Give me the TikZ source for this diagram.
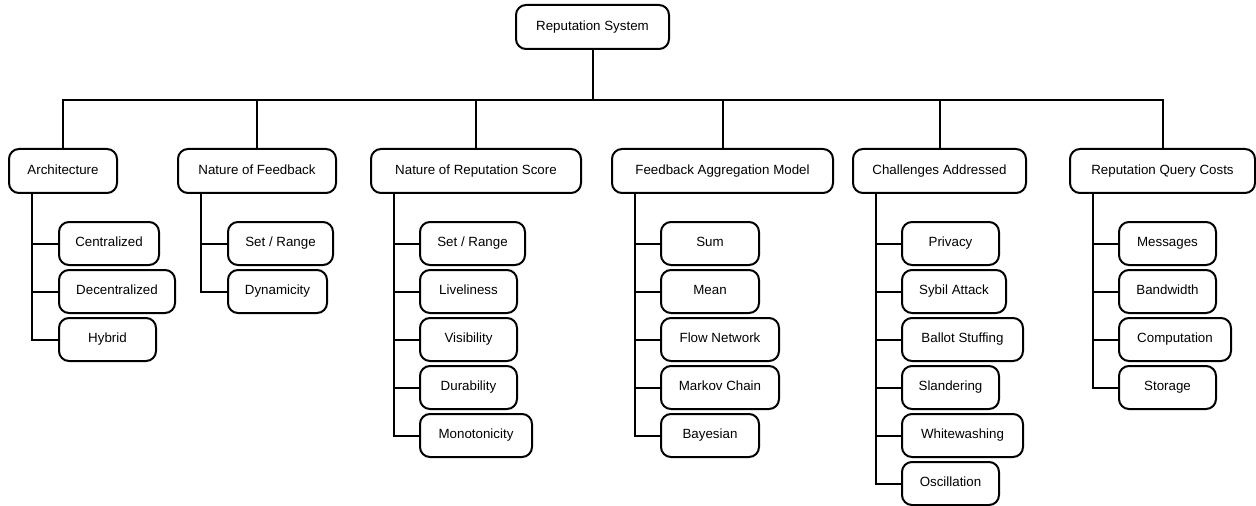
\documentclass[tikz,border=0pt]{standalone}
\usepackage{fontspec}
\setmainfont{Liberation Sans}
\begin{document}
\begin{tikzpicture}[x=0.75pt,y=-0.75pt,
  box/.style={draw=black,line width=1.5pt,rounded corners=7.5pt,fill=white,
    minimum height=33pt,inner sep=0pt,text height=7.2pt,text depth=2.1pt,
    font=\fontsize{10pt}{12pt}\selectfont},
  leaf/.style={box,minimum height=32.25pt,anchor=west},
  conn/.style={draw=black,line width=1.5pt}]
\useasboundingbox (0,0) rectangle (1256,506);
% root
\node[box,minimum width=114.75pt] (root) at (592.5,27) {Reputation System};
\coordinate (bus) at (592.5,100);
% level 1
\node[box,minimum width=81pt]    (A) at (63,171)    {Architecture};
\node[box,minimum width=118.5pt] (B) at (257,171)   {Nature of Feedback};
\node[box,minimum width=157.5pt] (C) at (476,171)   {Nature of Reputation Score};
\node[box,minimum width=165.75pt](D) at (722.5,171) {Feedback Aggregation Model};
\node[box,minimum width=129.75pt](E) at (939.5,171) {Challenges Addressed};
\node[box,minimum width=138.75pt](F) at (1162.5,171){Reputation Query Costs};
% leaves: Architecture
\node[leaf,minimum width=75pt] (A1) at (58,243.5) {Centralized};
\node[leaf,minimum width=87pt] (A2) at (58,291.5) {Decentralized};
\node[leaf,minimum width=72.75pt] (A3) at (58,339.5) {Hybrid};
% Nature of Feedback
\node[leaf,minimum width=78.75pt] (B1) at (227,243.5) {Set / Range};
\node[leaf,minimum width=74.25pt] (B2) at (227,291.5) {Dynamicity};
% Nature of Reputation Score
\node[leaf,minimum width=78.75pt] (C1) at (419,243.5) {Set / Range};
\node[leaf,minimum width=72.75pt] (C2) at (419,291.5) {Liveliness};
\node[leaf,minimum width=72.75pt] (C3) at (419,339.5) {Visibility};
\node[leaf,minimum width=72.75pt] (C4) at (419,387.5) {Durability};
\node[leaf,minimum width=84pt]    (C5) at (419,435.5) {Monotonicity};
% Feedback Aggregation Model
\node[leaf,minimum width=73.5pt] (D1) at (660,243.5) {Sum};
\node[leaf,minimum width=73.5pt] (D2) at (660,291.5) {Mean};
\node[leaf,minimum width=88.5pt] (D3) at (660,339.5) {Flow Network};
\node[leaf,minimum width=88.5pt] (D4) at (660,387.5) {Markov Chain};
\node[leaf,minimum width=73.5pt] (D5) at (660,435.5) {Bayesian};
% Challenges Addressed
\node[leaf,minimum width=72.75pt] (E1) at (901,243.5) {Privacy};
\node[leaf,minimum width=78pt]    (E2) at (901,291.5) {Sybil Attack};
\node[leaf,minimum width=90.75pt] (E3) at (901,339.5) {Ballot Stuffing};
\node[leaf,minimum width=72.75pt] (E4) at (901,387.5) {Slandering};
\node[leaf,minimum width=90.75pt] (E5) at (901,435.5) {Whitewashing};
\node[leaf,minimum width=72.75pt] (E6) at (901,483.5) {Oscillation};
% Reputation Query Costs
\node[leaf,minimum width=72.75pt] (F1) at (1118,243.5) {Messages};
\node[leaf,minimum width=72.75pt] (F2) at (1118,291.5) {Bandwidth};
\node[leaf,minimum width=84pt]    (F3) at (1118,339.5) {Computation};
\node[leaf,minimum width=72.75pt] (F4) at (1118,387.5) {Storage};
% connectors
\draw[conn] (root.south) -- (bus);
\foreach \n in {A,B,C,D,E,F} \draw[conn] (\n.north) |- (bus);
\foreach \p/\list in {A/{A1,A2,A3},B/{B1,B2},C/{C1,C2,C3,C4,C5},D/{D1,D2,D3,D4,D5},E/{E1,E2,E3,E4,E5,E6},F/{F1,F2,F3,F4}}{
  \foreach \c in \list \draw[conn] ([xshift=18pt]\p.south west) |- (\c.west);
}
\end{tikzpicture}
\end{document}
